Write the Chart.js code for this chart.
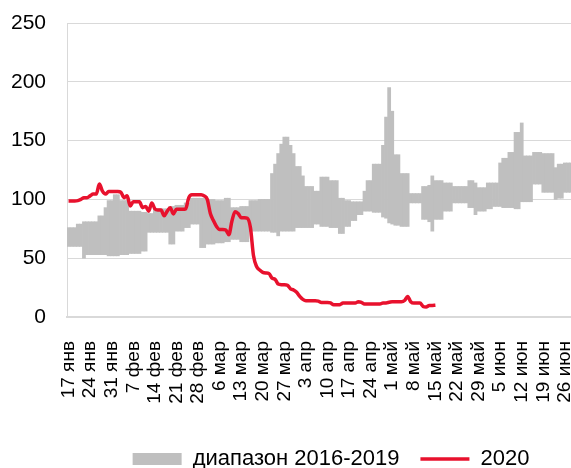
<!DOCTYPE html>
<html>
<head>
<meta charset="utf-8">
<script src="https://cdn.jsdelivr.net/npm/chart.js@4.4.1/dist/chart.umd.min.js"></script>
<style>
html,body{margin:0;padding:0;background:#fff;overflow:hidden;}
#wrap{width:662px;height:468px;}
</style>
</head>
<body>
<div id="wrap"><canvas id="c" width="662" height="468"></canvas></div>
<script>
// Months and their day counts (2020, leap year); axis runs 17 Jan .. 27 Jul (right part is cropped)
const monthNames = ['янв','фев','мар','апр','май','июн','июл'];
const monthDays = [31, 29, 31, 30, 31, 30, 31];
const startDay = 17;
const endDay = 27;

// Tick labels shown every 7 days
const tickLabels = ['17 янв','24 янв','31 янв','7 фев','14 фев','21 фев','28 фев','6 мар','13 мар','20 мар','27 мар','3 апр','10 апр','17 апр','24 апр','1 май','8 май','15 май','22 май','29 май','5 июн','12 июн','19 июн','26 июн','3 июл','10 июл','17 июл','24 июл'];

// Range 2016-2019: daily minimum
const rangeLow = [
60,60,60,60,60,50,53,53,53,53, 53,53,53,52,52,52,52,53,53,53,
54,54,54,54,56,56,72,72,72,72, 72,72,72,62,62,73,73,73,76,76,
79,79,79,59,59,62,62,62,63,63, 63,64,64,66,66,66,64,64,64,73,
73,73,73,73,73,73,72,72,69,73, 73,73,73,73,76,76,76,76,76,76,
79,79,77,77,77,76,76,76,71,71, 77,77,82,82,87,87,90,90,90,89,
89,89,85,84,80,79,78,78,77,77, 77,97,97,97,97,83,83,81,73,83,
83,83,90,90,90,97,97,97,97,97, 93,93,87,90,90,90,92,92,94,94,
94,93,93,93,93,92,92,98,98,98, 98,113,113,113,106,106,106,106,100,101,
101,106,106,106,106,106
];
// Range 2016-2019: daily maximum
const rangeHigh = [
76,76,76,79,79,81,81,81,81,81, 86,86,93,99,99,104,104,99,99,99,
90,90,90,90,89,89,88,88,92,92, 92,92,92,94,94,95,95,95,97,97,
101,101,101,101,101,100,100,100,99,99, 99,101,101,93,93,93,94,94,94,99,
99,99,100,100,100,100,122,130,139,147, 153,153,146,139,128,128,120,111,111,111,
107,107,119,119,119,116,116,116,101,101, 99,99,98,98,98,98,107,116,116,130,
130,130,146,170,195,175,138,138,122,122, 122,105,105,105,105,111,111,112,120,116,
116,116,114,114,114,111,111,111,111,111, 116,116,114,110,110,110,114,114,114,114,
131,135,135,140,140,157,157,165,137,137, 137,140,140,140,139,139,139,139,127,130,
130,131,131,131,131,131
];
// 2020
const values2020 = [
98.7,98.7,98.7,99,100,101.5,101.5,103,104.5,104.5,
113,107,104.5,106.7,106.7,106.7,106.7,106,101.5,103,
94.4,98,98,98,93,94,90,97,92,91,
91,86,90,93,87.6,91.6,91.6,91.6,92,101.5,
104,104,104,104,103,100,88,82,77,74.5,
74.5,74,70,81.6,89.6,88,84.5,84.5,84,76,
52,43,40,38,37.4,37,33,32,28,27.5,
27.5,27,24,23,21,17.5,15,13.8,13.8,13.8,
13.8,13.5,12.4,12.4,12.4,12,10.4,10.4,10.5,11.8,
11.8,12,11.8,11.8,13,12.5,11,11,11,11,
11,11,12,12,12.5,13,13,13,13,14,
17.5,13,11.8,11.8,11.8,9,8.5,9.8,9.8,10
];

// Build daily category labels
const categories = [];
for (let m = 0; m < monthNames.length; m++) {
  const first = m === 0 ? startDay : 1;
  const last = m === monthNames.length - 1 ? endDay : monthDays[m];
  for (let d = first; d <= last; d++) categories.push(d + ' ' + monthNames[m]);
}
const rangeData = categories.map((_, i) => i < rangeLow.length ? [rangeLow[i], rangeHigh[i]] : null);
const lineData = categories.map((_, i) => i < values2020.length ? values2020[i] : null);

const FONT = "'Liberation Sans', Arial, sans-serif";
const RED = '#e8112d';
const GREY = '#bfbfbf';

new Chart(document.getElementById('c'), {
  data: {
    labels: categories,
    datasets: [
      {
        type: 'bar',
        label: 'диапазон 2016-2019',
        data: rangeData,
        backgroundColor: GREY,
        borderWidth: 0,
        barPercentage: 1,
        categoryPercentage: 1,
        order: 2
      },
      {
        type: 'line',
        label: '2020',
        data: lineData,
        borderColor: RED,
        backgroundColor: RED,
        borderWidth: 3.5,
        pointRadius: 0,
        cubicInterpolationMode: 'monotone',
        spanGaps: false,
        order: 1
      }
    ]
  },
  options: {
    responsive: false,
    animation: false,
    devicePixelRatio: 1,
    layout: { padding: { top: 23, left: 0, right: 0, bottom: -12 } },
    plugins: {
      tooltip: { enabled: false },
      legend: {
        position: 'bottom',
        labels: {
          font: { family: FONT, size: 22 },
          color: '#000',
          usePointStyle: true,
          pointStyleWidth: 49,
          boxHeight: 12,
          padding: 21,
          generateLabels: () => [
            { text: 'диапазон 2016-2019', fillStyle: GREY, strokeStyle: GREY, lineWidth: 0, pointStyle: 'rect', datasetIndex: 0, hidden: false },
            { text: '2020', fillStyle: RED, strokeStyle: RED, lineWidth: 3.5, pointStyle: 'line', datasetIndex: 1, hidden: false }
          ]
        }
      }
    },
    scales: {
      x: {
        type: 'category',
        offset: true,
        grid: { display: false, drawTicks: false },
        border: { display: true, color: '#d9d9d9', width: 2 },
        ticks: {
          autoSkip: false,
          maxRotation: 90,
          minRotation: 90,
          padding: 24,
          color: '#000',
          font: { family: FONT, size: 19 },
          callback: function(value, index) {
            const lab = categories[index];
            return tickLabels.includes(lab) ? lab : null;
          }
        },
        afterFit: (s) => { s.height = 110; s.paddingLeft = 0; s.paddingRight = 0; }
      },
      y: {
        min: 0,
        max: 250,
        grid: { color: '#d9d9d9', lineWidth: 1, drawTicks: false },
        border: { display: true, color: '#d9d9d9', width: 1 },
        ticks: {
          stepSize: 50,
          padding: 21,
          color: '#000',
          font: { family: FONT, size: 21 }
        },
        afterFit: (s) => { s.width = 67; s.paddingTop = 0; s.paddingBottom = 0; }
      }
    }
  }
});
</script>
</body>
</html>
